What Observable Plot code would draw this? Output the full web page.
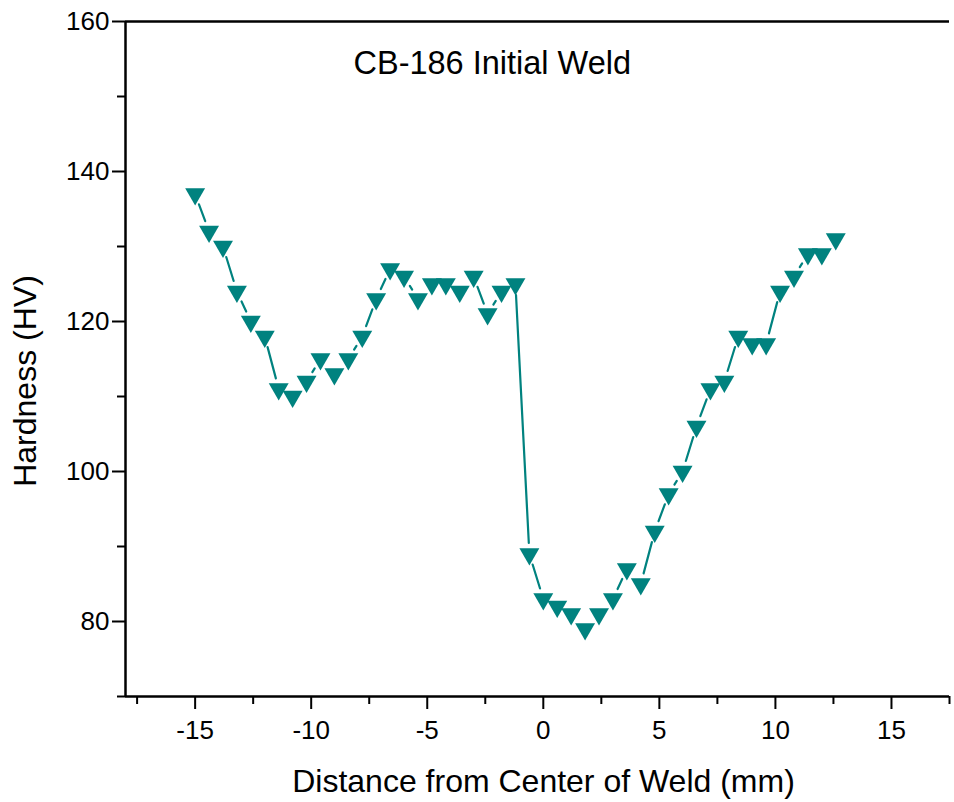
<!DOCTYPE html>
<html>
<head>
<meta charset="utf-8">
<script src="https://cdn.jsdelivr.net/npm/d3@7"></script>
<script src="https://cdn.jsdelivr.net/npm/@observablehq/plot@0.6"></script>
<style>
  html, body { margin: 0; padding: 0; background: #fff; }
  #chart { width: 954px; height: 802px; }
</style>
</head>
<body>
<div id="chart"></div>
<script>
const title = "CB-186 Initial Weld";
const xLabel = "Distance from Center of Weld (mm)";
const yLabel = "Hardness (HV)";

const distance = [-15, -14.4, -13.8, -13.2, -12.6, -12, -11.4, -10.8, -10.2, -9.6,
  -9, -8.4, -7.8, -7.2, -6.6, -6, -5.4, -4.8, -4.2, -3.6,
  -3, -2.4, -1.8, -1.2, -0.6, 0, 0.6, 1.2, 1.8, 2.4,
  3, 3.6, 4.2, 4.8, 5.4, 6, 6.6, 7.2, 7.8, 8.4,
  9, 9.6, 10.2, 10.8, 11.4, 12, 12.6];
const hardness = [137, 132, 130, 124, 120, 118, 111, 110, 112, 115,
  113, 115, 118, 123, 127, 126, 123, 125, 125, 124,
  126, 121, 124, 125, 89, 83, 82, 81, 79, 81,
  83, 87, 85, 92, 97, 100, 106, 111, 112, 118,
  117, 117, 124, 126, 129, 129, 131];

const xMajorTicks = [-15, -10, -5, 0, 5, 10, 15];
const xMinorTicks = [-17.5, -12.5, -7.5, -2.5, 2.5, 7.5, 12.5, 17.5];
const yMajorTicks = [80, 100, 120, 140, 160];
const yMinorTicks = [70, 90, 110, 130, 150];

const teal = "#00827f";

const points = distance.map((d, i) => ({x: d, y: hardness[i]}));
const segments = points.slice(1).map((p, i) => ({x1: points[i].x, y1: points[i].y, x2: p.x, y2: p.y}));

const triangleDown = {
  draw(context, size) {
    const s3 = Math.sqrt(3);
    const y = Math.sqrt(size / (s3 * 3));
    context.moveTo(0, 2 * y);
    context.lineTo(-s3 * y, -y);
    context.lineTo(s3 * y, -y);
    context.closePath();
  }
};

const chart = Plot.plot({
  width: 954,
  height: 802,
  marginLeft: 125,
  marginRight: 5,
  marginTop: 21,
  marginBottom: 106,
  style: {fontFamily: "'Liberation Sans', Arial, sans-serif", color: "#000", background: "#fff"},
  x: {domain: [-18, 17.5], label: null},
  y: {domain: [70, 160], label: null},
  marks: [
    Plot.axisX(xMinorTicks, {tickSize: 8, strokeWidth: 2, tickFormat: () => "", label: null}),
    Plot.axisX(xMajorTicks, {tickSize: 13, strokeWidth: 2, tickPadding: 11, fontSize: 26, label: null, tickFormat: d => String(d)}),
    Plot.axisY(yMinorTicks, {tickSize: 8, strokeWidth: 2, tickFormat: () => "", label: null}),
    Plot.axisY(yMajorTicks, {tickSize: 13, strokeWidth: 2, tickPadding: 3, fontSize: 26, label: null, tickFormat: d => String(d)}),
    Plot.ruleY([70], {stroke: "#000", strokeWidth: 2.5}),
    Plot.ruleY([160], {stroke: "#000", strokeWidth: 2.5}),
    Plot.ruleX([-18], {stroke: "#000", strokeWidth: 2.5}),
    Plot.arrow(segments, {x1: "x1", y1: "y1", x2: "x2", y2: "y2", stroke: teal, strokeWidth: 2.2, headLength: 0, inset: 11}),
    Plot.dot(points, {x: "x", y: "y", symbol: triangleDown, r: 7.4, fill: teal, stroke: "none"}),
    Plot.text([title], {frameAnchor: "top-left", dx: 228, dy: 42, textAnchor: "start", lineAnchor: "middle", fontSize: 32.5, fill: "#000"}),
    Plot.text([xLabel], {frameAnchor: "bottom", dx: 6, dy: 85, textAnchor: "middle", lineAnchor: "middle", fontSize: 32, fill: "#000"}),
    Plot.text([yLabel], {frameAnchor: "left", dx: -100, dy: 22, rotate: -90, textAnchor: "middle", lineAnchor: "middle", fontSize: 32, fill: "#000"})
  ]
});
document.getElementById("chart").appendChild(chart);
</script>
</body>
</html>
